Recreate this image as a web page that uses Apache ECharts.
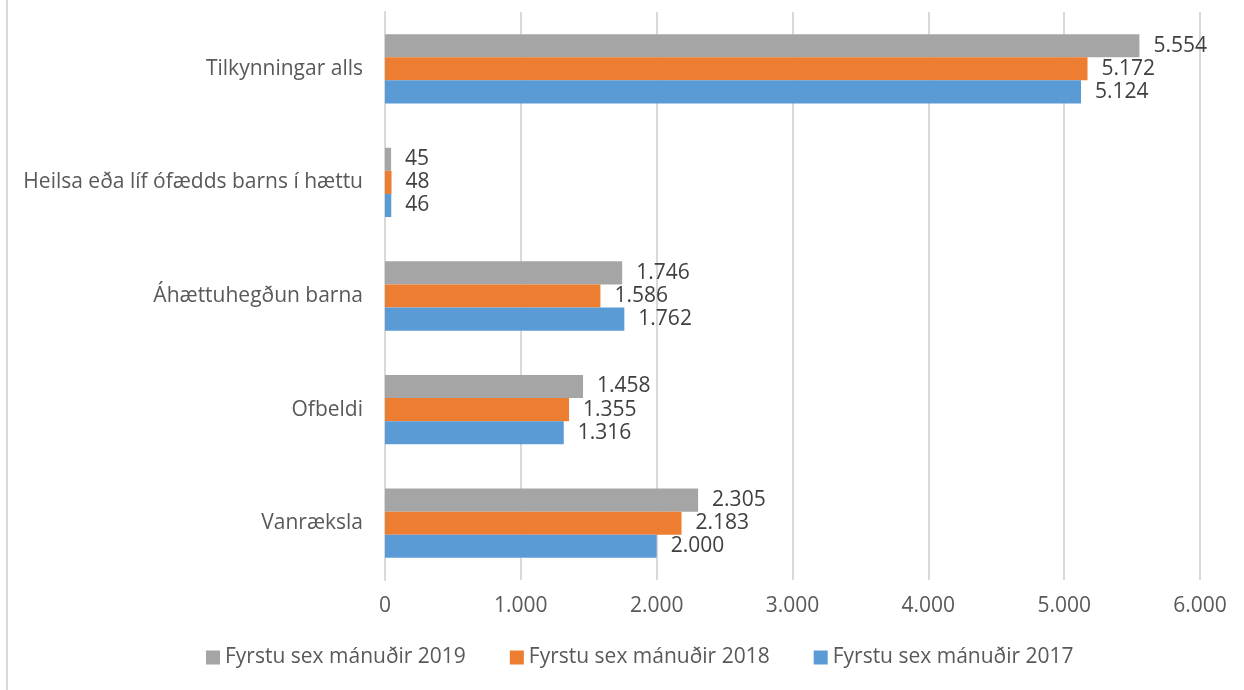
<!DOCTYPE html>
<html>
<head>
<meta charset="utf-8">
<script src="https://cdn.jsdelivr.net/npm/echarts@6/dist/echarts.min.js"></script>
<style>
  html,body{margin:0;padding:0;background:#fff;}
  #chart{width:1244px;height:690px;}
</style>
</head>
<body>
<div id="chart"></div>
<script>
// flokkar, neðst fyrst
const categories=['Vanræksla','Ofbeldi','Áhættuhegðun barna','Heilsa eða líf ófædds barns í hættu','Tilkynningar alls']
const names=['Fyrstu sex mánuðir 2019','Fyrstu sex mánuðir 2018','Fyrstu sex mánuðir 2017']
const values2019=[2305,1458,1746,45,5554]
const values2018=[2183,1355,1586,48,5172]
const values2017=[2000,1316,1762,46,5124]
const xTicks=[0,1000,2000,3000,4000,5000,6000]

const colors=['#a5a5a5','#ed7d31','#5b9bd5']
const fontFam='"Open Sans", "Noto Sans", sans-serif'

function fmt(v){
  return String(v).replace(/\B(?=(\d{3})+(?!\d))/g,'.')
}

const myChart=echarts.init(document.querySelector('#chart'))

function mkSeries(name,data,i){
  return {
    name:name,
    type:'bar',
    data:data,
    barGap:'0%',
    barCategoryGap:'39%',
    itemStyle:{color:colors[i]},
    label:{
      show:true,
      position:'right',
      distance:14,
      color:'#404040',
      fontSize:21,
      fontFamily:fontFam,
      formatter:p=>fmt(p.value)
    }
  }
}

const option={
  animation:false,
  grid:{left:385,right:44,top:12,bottom:110,containLabel:false},
  legend:{
    data:names,
    bottom:17,
    left:201,
    itemWidth:14,
    itemHeight:14,
    itemGap:44,
    icon:'rect',
    textStyle:{fontSize:21,color:'#595959',fontFamily:fontFam}
  },
  xAxis:{
    type:'value',
    min:xTicks[0],
    max:xTicks[xTicks.length-1],
    interval:1000,
    axisLine:{show:false},
    axisTick:{show:false},
    splitLine:{lineStyle:{color:'#d9d9d9',width:2}},
    axisLabel:{
      margin:16,
      fontSize:21,
      color:'#595959',
      fontFamily:fontFam,
      formatter:v=>fmt(v)
    }
  },
  yAxis:{
    type:'category',
    data:categories,
    axisLine:{lineStyle:{color:'#d9d9d9',width:2}},
    axisTick:{show:false},
    axisLabel:{
      margin:22,
      fontSize:21,
      color:'#595959',
      fontFamily:fontFam
    }
  },
  graphic:[{
    type:'line',
    shape:{x1:7,y1:0,x2:7,y2:690},
    style:{stroke:'#d9d9d9',lineWidth:2}
  }],
  series:[
    mkSeries(names[0],values2019,0),
    mkSeries(names[1],values2018,1),
    mkSeries(names[2],values2017,2)
  ]
}

myChart.setOption(option)
</script>
</body>
</html>
